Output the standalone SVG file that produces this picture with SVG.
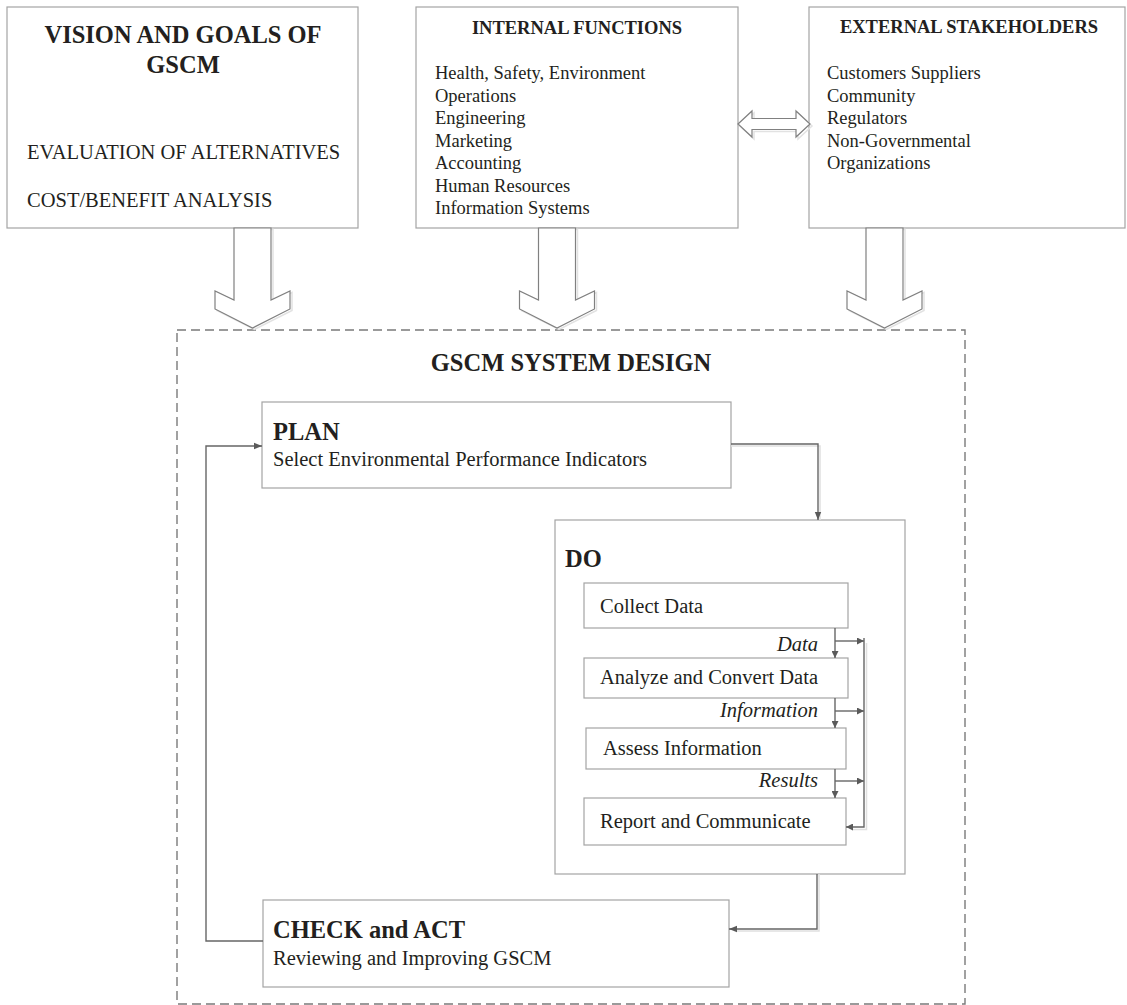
<svg xmlns="http://www.w3.org/2000/svg" xmlns:xlink="http://www.w3.org/1999/xlink" width="1127" height="1005" viewBox="0 0 1127 1005">
  <style>
    text { font-family: "Liberation Serif", "Times New Roman", serif; fill: #231f20; }
    .h1 { font-size: 24.5px; font-weight: bold; }
    .h2 { font-size: 18.5px; font-weight: bold; }
    .li { font-size: 18.5px; }
    .tx { font-size: 20.5px; }
    .it { font-size: 20.5px; font-style: italic; }
    .box { fill: #fff; stroke: #a4a4a4; stroke-width: 1.2; }
    .blk { fill: #fff; stroke: #808080; stroke-width: 1.2; stroke-linejoin: miter; }
    .blk-sh { fill: none; stroke: #e2e2e2; stroke-width: 1.5; }
    .con { fill: none; stroke: #666; stroke-width: 1.4; }
    .con-sh { fill: none; stroke: #e0e0e0; stroke-width: 1.5; }
    .dash { fill: none; stroke: #7a7a7a; stroke-width: 1.4; stroke-dasharray: 9 5; }
  </style>
  <defs>
    <!-- hollow downward block arrow, centred on x = 0 -->
    <path id="blockArrow" d="M-18.5,228 H18.5 V300 L37.5,291 V309 L0,328 L-37.5,309 V291 L-18.5,300 Z"/>
    <marker id="ah" viewBox="0 0 10 10" refX="10" refY="5" markerWidth="7" markerHeight="7" markerUnits="userSpaceOnUse" orient="auto">
      <path d="M0,0 L10,5 L0,10 Z" fill="#5a5a5a"/>
    </marker>
    <marker id="ahs" viewBox="0 0 10 10" refX="10" refY="5" markerWidth="8" markerHeight="8" markerUnits="userSpaceOnUse" orient="auto">
      <path d="M0,1 L10,5 L0,9 Z" fill="#5a5a5a"/>
    </marker>
  </defs>

  <!-- top row -->
  <g id="vision">
    <rect class="box" x="7" y="7" width="351" height="221"/>
    <text class="h1" x="183" y="43" text-anchor="middle">VISION AND GOALS OF</text>
    <text class="h1" x="183" y="73" text-anchor="middle">GSCM</text>
    <text class="tx" x="27" y="159">EVALUATION OF ALTERNATIVES</text>
    <text class="tx" x="27" y="207">COST/BENEFIT ANALYSIS</text>
  </g>

  <g id="internal">
    <rect class="box" x="416" y="7" width="322" height="221"/>
    <text class="h2" x="577" y="34" text-anchor="middle">INTERNAL FUNCTIONS</text>
    <text class="li" x="435" y="79">Health, Safety, Environment</text>
    <text class="li" x="435" y="101.5">Operations</text>
    <text class="li" x="435" y="124">Engineering</text>
    <text class="li" x="435" y="146.5">Marketing</text>
    <text class="li" x="435" y="169">Accounting</text>
    <text class="li" x="435" y="191.5">Human Resources</text>
    <text class="li" x="435" y="214">Information Systems</text>
  </g>

  <g id="external">
    <rect class="box" x="809" y="7" width="316" height="221"/>
    <text class="h2" x="969" y="33" text-anchor="middle">EXTERNAL STAKEHOLDERS</text>
    <text class="li" x="827" y="79">Customers Suppliers</text>
    <text class="li" x="827" y="101.5">Community</text>
    <text class="li" x="827" y="124">Regulators</text>
    <text class="li" x="827" y="146.5">Non-Governmental</text>
    <text class="li" x="827" y="169">Organizations</text>
  </g>

  <!-- system design frame -->
  <g id="system-design">
    <rect class="dash" x="177" y="330" width="788" height="674"/>
    <text class="h1" x="571" y="371" text-anchor="middle">GSCM SYSTEM DESIGN</text>
  </g>

  <g id="plan">
    <rect class="box" x="262" y="402" width="469" height="86"/>
    <text class="h1" x="273" y="440">PLAN</text>
    <text class="tx" x="273" y="466">Select Environmental Performance Indicators</text>
  </g>

  <g id="do">
    <rect class="box" x="555" y="520" width="350" height="354"/>
    <text class="h1" x="565" y="567">DO</text>
  </g>

  <g id="collect">
    <rect class="box" x="584" y="583" width="264" height="45"/>
    <text class="tx" x="600" y="613">Collect Data</text>
  </g>
  <g id="analyze">
    <rect class="box" x="584" y="658" width="264" height="40"/>
    <text class="tx" x="600" y="684">Analyze and Convert Data</text>
  </g>
  <g id="assess">
    <rect class="box" x="586" y="728" width="260" height="41"/>
    <text class="tx" x="603" y="755">Assess Information</text>
  </g>
  <g id="report">
    <rect class="box" x="584" y="798" width="262" height="47"/>
    <text class="tx" x="600" y="828">Report and Communicate</text>
  </g>

  <g id="check-act">
    <rect class="box" x="263" y="900" width="466" height="87"/>
    <text class="h1" x="273" y="938">CHECK and ACT</text>
    <text class="tx" x="273" y="965">Reviewing and Improving GSCM</text>
  </g>

  <!-- connectors -->
  <g id="connectors">
    <!-- block arrows from the top row into the design frame -->
    <use xlink:href="#blockArrow" class="blk-sh" transform="translate(254.5,1.5)"/>
    <use xlink:href="#blockArrow" class="blk" transform="translate(252.5,0)"/>
    <use xlink:href="#blockArrow" class="blk-sh" transform="translate(559,1.5)"/>
    <use xlink:href="#blockArrow" class="blk" transform="translate(557,0)"/>
    <use xlink:href="#blockArrow" class="blk-sh" transform="translate(886.5,1.5)"/>
    <use xlink:href="#blockArrow" class="blk" transform="translate(884.5,0)"/>

    <!-- two-way arrow between internal functions and stakeholders -->
    <path class="blk-sh" d="M740,126 L754,113 V120.5 H798 V113 L812,126 L798,139 V131.5 H754 V139 Z"/>
    <path class="blk" d="M738,124 L752,111 V118.5 H796 V111 L810,124 L796,137 V129.5 H752 V137 Z"/>

    <!-- PLAN to DO -->
    <path class="con-sh" d="M731,446 H820 V520"/>
    <path class="con" d="M731,444 H818 V520" marker-end="url(#ahs)"/>

    <!-- DO to CHECK and ACT -->
    <path class="con-sh" d="M819,874 V931 H737"/>
    <path class="con" d="M817,874 V929 H729" marker-end="url(#ahs)"/>

    <!-- CHECK and ACT back to PLAN -->
    <path class="con" d="M263,941 H206 V446 H262" marker-end="url(#ahs)"/>

    <!-- steps inside DO -->
    <path class="con" d="M835,628 V658" marker-end="url(#ah)"/>
    <path class="con" d="M835,698 V728" marker-end="url(#ah)"/>
    <path class="con" d="M835,769 V798" marker-end="url(#ah)"/>
    <path class="con" d="M835,641 H864" marker-end="url(#ah)"/>
    <path class="con" d="M835,711 H864" marker-end="url(#ah)"/>
    <path class="con" d="M835,781 H864" marker-end="url(#ah)"/>
    <path class="con-sh" d="M866.5,643 V829.5 H852"/>
    <path class="con" d="M864,638 V827 H846" marker-end="url(#ah)"/>

    <text class="it" x="818" y="651" text-anchor="end">Data</text>
    <text class="it" x="818" y="717" text-anchor="end">Information</text>
    <text class="it" x="818" y="787" text-anchor="end">Results</text>
  </g>
</svg>
